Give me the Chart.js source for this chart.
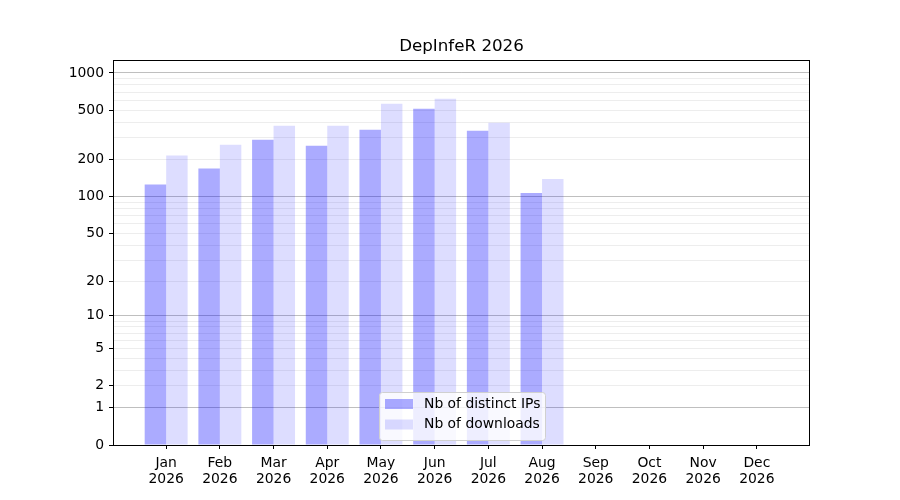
<!doctype html>
<html>
<head>
    <meta charset="UTF-8"/>
    <title>DepInfeR 2026</title>
    <script src="https://cdn.jsdelivr.net/npm/chart.js@4.4.0/dist/chart.umd.min.js"></script>
</head>
<body style="margin: 0;">
<canvas id="myChart" width="900" height="500"></canvas>

<script>
    // values
    const months      = ['Jan', 'Feb', 'Mar', 'Apr', 'May', 'Jun', 'Jul', 'Aug', 'Sep', 'Oct', 'Nov', 'Dec'];
    const year        = '2026';
    const chartTitle  = 'DepInfeR 2026';
    const distinctIPs = [125, 169, 289, 258, 348, 514, 342, 107, 0, 0, 0, 0];
    const downloads   = [215, 263, 375, 375, 565, 620, 396, 139, 0, 0, 0, 0];
    const yLabelled   = [0, 1, 2, 5, 10, 20, 50, 100, 200, 500, 1000];
    const yMajor      = [1, 10, 100, 1000];

    // gridline positions: 0, 1..9, 10..90, 100..900, 1000
    let yGrid = [0];
    [1, 10, 100].forEach((d) => { for (let k = 1; k < 10; k++) yGrid.push(k * d); });
    yGrid.push(1000);

    // y axis drawn as log10(1 + v)
    class Log1pScale extends Chart.LinearScale {
        static id = 'log1p';
        static defaults = {};
        buildTicks() {
            return yGrid.map((v) => ({value: v}));
        }
        configure() {
            super.configure();
            this._lo = Math.log10(1 + this.min);
            this._hi = Math.log10(1 + this.max);
        }
        getPixelForValue(v) {
            if (v === null || isNaN(v)) return NaN;
            let t = Math.log10(1 + Math.max(v, 0));
            return this.getPixelForDecimal((t - this._lo) / (this._hi - this._lo));
        }
        getValueForPixel(p) {
            return Math.pow(10, this._lo + this.getDecimalForPixel(p) * (this._hi - this._lo)) - 1;
        }
    }
    Chart.register(Log1pScale);

    const insideLegend = {
        id: 'insideLegend',
        afterDraw(chart) {
            const ctx = chart.ctx;
            const a = chart.chartArea;
            ctx.save();
            // title centred over the plot area
            ctx.fillStyle = '#000';
            ctx.font = '16.7px "DejaVu Sans"';
            ctx.textAlign = 'center';
            ctx.textBaseline = 'middle';
            ctx.fillText(chartTitle, (a.left + a.right) / 2, a.top - 13);
            ctx.textAlign = 'left';
            // frame
            ctx.strokeStyle = '#000';
            ctx.lineWidth = 1;
            ctx.strokeRect(Math.round(a.left) + 0.5, Math.round(a.top) + 0.5,
                Math.round(a.right - a.left) - 1, Math.round(a.bottom - a.top));
            // legend box, lower centre
            const w = 166, h = 48;
            const x0 = Math.round((a.left + a.right) / 2 - w / 2) + 0.5;
            const y0 = Math.round(a.bottom - 5 - h) + 0.5;
            ctx.beginPath();
            ctx.roundRect(x0, y0, w, h, 3);
            ctx.fillStyle = 'rgba(255,255,255,0.8)';
            ctx.fill();
            ctx.strokeStyle = '#d0d0d0';
            ctx.stroke();
            ctx.font = '13.9px "DejaVu Sans"';
            chart.data.datasets.forEach((ds, i) => {
                const cy = y0 + 11.5 + i * 20.5;
                ctx.fillStyle = ds.backgroundColor;
                ctx.fillRect(x0 + 5.5, cy - 5, 28, 10);
                ctx.fillStyle = '#000';
                ctx.fillText(ds.label, x0 + 44.5, cy);
            });
            ctx.restore();
        }
    };

    Chart.defaults.font.family = '"DejaVu Sans"';
    Chart.defaults.color = '#000';

    var ctx = document.getElementById('myChart').getContext('2d');
    var myChart = new Chart(ctx, {
        type   : 'bar',
        data   : {
            datasets: [
                {
                    label             : 'Nb of distinct IPs',
                    data              : distinctIPs.map((v, i) => ({x: i, y: v})),
                    backgroundColor   : 'rgba(0, 0, 255, 0.33)',
                    borderWidth       : 0,
                    categoryPercentage: 0.8,
                    barPercentage     : 1.0,
                },
                {
                    label             : 'Nb of downloads',
                    data              : downloads.map((v, i) => ({x: i, y: v})),
                    backgroundColor   : 'rgba(0, 0, 255, 0.135)',
                    borderWidth       : 0,
                    categoryPercentage: 0.8,
                    barPercentage     : 1.0,
                }
            ]
        },
        options: {
            responsive       : false,
            animation        : false,
            devicePixelRatio : 1,
            layout           : {padding: {left: 0, right: 90, top: 60, bottom: 0}},
            plugins          : {
                legend : {display: false},
                tooltip: {enabled: false},
                title  : {display: false},
            },
            scales           : {
                x: {
                    type           : 'linear',
                    min            : -0.99,
                    max            : 11.99,
                    offset         : false,
                    afterBuildTicks: (s) => { s.ticks = months.map((m, i) => ({value: i})); },
                    afterFit       : (s) => { s.height = 55; },
                    grid           : {offset: false, drawOnChartArea: false, tickLength: 4, tickColor: '#000'},
                    border         : {display: false},
                    ticks          : {
                        autoSkip   : false,
                        maxRotation: 0,
                        padding    : 6,
                        color      : '#000',
                        font       : {size: 13.9, lineHeight: 1.15},
                        callback   : (v) => [months[v], year],
                    },
                },
                y: {
                    type    : 'log1p',
                    min     : 0,
                    max     : 1273,
                    z       : 1,
                    afterFit: (s) => { s.width = 113; },
                    grid    : {
                        lineWidth : 1,
                        tickLength: 4,
                        color     : (c) => c.tick.value === 0 ? 'rgba(0,0,0,0)'
                            : (yMajor.includes(c.tick.value) ? 'rgba(0,0,0,0.25)' : 'rgba(0,0,0,0.07)'),
                        tickColor : (c) => yLabelled.includes(c.tick.value) ? '#000' : 'rgba(0,0,0,0)',
                    },
                    border  : {display: false},
                    ticks   : {
                        autoSkip: false,
                        padding : 5,
                        color   : '#000',
                        font    : {size: 13.9},
                        callback: (v) => yLabelled.includes(v) ? String(v) : '',
                    },
                },
            },
        },
        plugins: [insideLegend],
    });
</script>
</body>
</html>
